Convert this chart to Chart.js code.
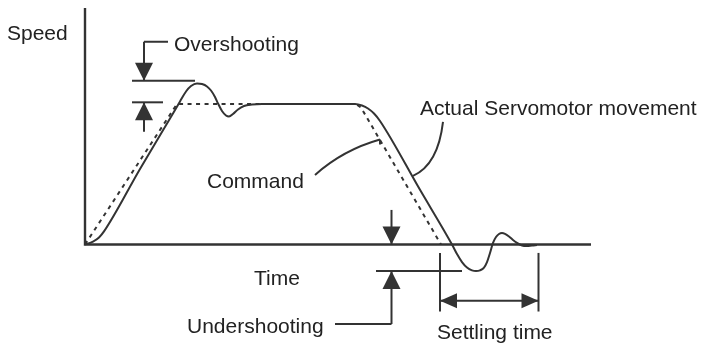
<!DOCTYPE html>
<html><head><meta charset="utf-8">
<script src="https://cdn.jsdelivr.net/npm/chart.js@4/dist/chart.umd.min.js"></script>
<style>html,body{margin:0;padding:0;background:#fff}#wrap{width:701px;height:344px;position:relative}</style>
</head><body><div id="wrap"><canvas id="c"></canvas></div>
<script>
// ---- data (time units, speed in % of commanded speed) ----
const timeRange = [-17, 123.2];
const speedRange = [-70.82, 174.02];

const axisTime  = [0, 0, 101.2];
const axisSpeed = [168.3, 0, 0];

const commandTime  = [0, 18.4, 54.2, 55.2, 71.2];
const commandSpeed = [0, 100, 100, 97.5, 0];

const actualTime  = [0, 1.6, 2.8, 3.8, 11, 17, 19, 20.2, 21.2, 22.4, 23.4, 24.4, 25.2, 26, 26.6, 27.4, 28.2, 28.8, 29.6, 30.6, 31.8, 33.4, 35.4, 54, 55.4, 56.6, 57.8, 59, 67, 73.4, 74.4, 75.4, 76.4, 77.4, 78.2, 79, 79.8, 80.4, 81, 81.6, 82.2, 82.8, 83.4, 84, 84.8, 85.6, 86.4, 87.4, 88.4, 89.4, 90.4];
const actualSpeed = [0, 2.1, 5.0, 9.3, 53.8, 89.6, 101.8, 108.9, 112.8, 114.6, 114.2, 112.5, 109.6, 105, 100.4, 95, 91.8, 91.1, 92.9, 96.1, 98.6, 99.6, 100, 100, 98.9, 96.8, 93.2, 87.9, 38.9, 0, -6.8, -12.5, -16.4, -18.4, -18.9, -18.4, -16.4, -12.5, -6.0, 1.1, 5.3, 7.5, 8.2, 7.6, 5.7, 3.2, 1.1, -0.7, -1.1, -0.7, -0.4];

// guide lines [t1, s1, t2, s2]
const guideLines = [
  [9.4, 116.6, 22, 116.6],
  [9.4, 101.2, 15.6, 101.2],
  [11.8, 144.3, 16.6, 144.3],
  [11.8, 144.3, 11.8, 116.6],
  [11.8, 101.2, 11.8, 80.3],
  [58.2, -18.9, 75.4, -18.9],
  [61.3, 24.6, 61.3, 0],
  [61.3, -18.9, 61.3, -56.6],
  [61.3, -56.6, 50, -56.6],
  [71, -6, 71, -47.7],
  [90.7, -6, 90.7, -47.7],
  [71, -40, 90.7, -40],
  [59, 74.7, 59, 71.2]
];
// arrow tips [t, s, direction]
const arrowTips = [
  [11.8, 116.6, 'down'],
  [11.8, 101.2, 'up'],
  [61.3, 0, 'down'],
  [61.3, -18.9, 'up'],
  [71, -40, 'left'],
  [90.7, -40, 'right']
];
// leader curves [t0, s0, tc, sc, t1, s1]
const leaderCurves = [
  [46, 49.5, 51.6, 67.3, 59, 74.7],
  [71.6, 87.2, 70.6, 56.6, 65.6, 48.8]
];
const labelTexts = ['Speed', 'Overshooting', 'Actual Servomotor movement', 'Command', 'Time', 'Undershooting', 'Settling time'];
const labelTime  = [-15.6, 17.8, 67, 24.4, 33.8, 20.4, 70.4];
const labelSpeed = [145.6, 137.4, 92.2, 40.2, -28.8, -63, -67.3];

// ---- styles ----
const INK = '#333333';
const TEXT = '#222222';
const FONT = '21px "Liberation Sans", Arial, sans-serif';

const pts = (xs, ys) => xs.map((v, i) => ({x: v, y: ys[i]}));

const annot = {
  id: 'annot',
  afterDatasetsDraw(chart) {
    const {ctx, scales: {x, y}} = chart;
    const X = v => x.getPixelForValue(v), Y = v => y.getPixelForValue(v);
    ctx.save();
    ctx.strokeStyle = INK; ctx.fillStyle = INK; ctx.lineWidth = 2;
    guideLines.forEach(([a, b, c, d]) => {
      ctx.beginPath(); ctx.moveTo(X(a), Y(b)); ctx.lineTo(X(c), Y(d)); ctx.stroke();
    });
    leaderCurves.forEach(([a, b, c, d, e, f]) => {
      ctx.beginPath(); ctx.moveTo(X(a), Y(b)); ctx.quadraticCurveTo(X(c), Y(d), X(e), Y(f)); ctx.stroke();
    });
    arrowTips.forEach(([t, s, dir]) => {
      const px = X(t), py = Y(s);
      const horiz = dir === 'left' || dir === 'right';
      const L = horiz ? 17 : 18, H = horiz ? 7.5 : 9;
      ctx.beginPath();
      ctx.moveTo(px, py);
      if (dir === 'down') { ctx.lineTo(px - H, py - L); ctx.lineTo(px + H, py - L); }
      if (dir === 'up') { ctx.lineTo(px - H, py + L); ctx.lineTo(px + H, py + L); }
      if (dir === 'left') { ctx.lineTo(px + L, py - H); ctx.lineTo(px + L, py + H); }
      if (dir === 'right') { ctx.lineTo(px - L, py - H); ctx.lineTo(px - L, py + H); }
      ctx.closePath(); ctx.fill();
    });
    ctx.fillStyle = TEXT; ctx.font = FONT; ctx.textAlign = 'left'; ctx.textBaseline = 'alphabetic';
    labelTexts.forEach((txt, i) => ctx.fillText(txt, X(labelTime[i]), Y(labelSpeed[i])));
    ctx.restore();
  }
};

new Chart(document.getElementById('c'), {
  type: 'scatter',
  data: {
    datasets: [
      {label: 'Actual Servomotor movement', data: pts(actualTime, actualSpeed), showLine: true,
       borderColor: INK, borderWidth: 2, pointRadius: 0, cubicInterpolationMode: 'monotone', fill: false},
      {label: 'Command', data: pts(commandTime, commandSpeed), showLine: true,
       borderColor: INK, borderWidth: 2, borderDash: [4, 4.5], pointRadius: 0, tension: 0, fill: false},
      {label: 'axes', data: pts(axisTime, axisSpeed), showLine: true,
       borderColor: INK, borderWidth: 2.4, pointRadius: 0, tension: 0, fill: false}
    ]
  },
  options: {
    responsive: true, maintainAspectRatio: false, animation: false,
    layout: {padding: 0},
    plugins: {legend: {display: false}, tooltip: {enabled: false}},
    scales: {
      x: {type: 'linear', min: timeRange[0], max: timeRange[1], display: false},
      y: {type: 'linear', min: speedRange[0], max: speedRange[1], display: false}
    }
  },
  plugins: [annot]
});
</script></body></html>
